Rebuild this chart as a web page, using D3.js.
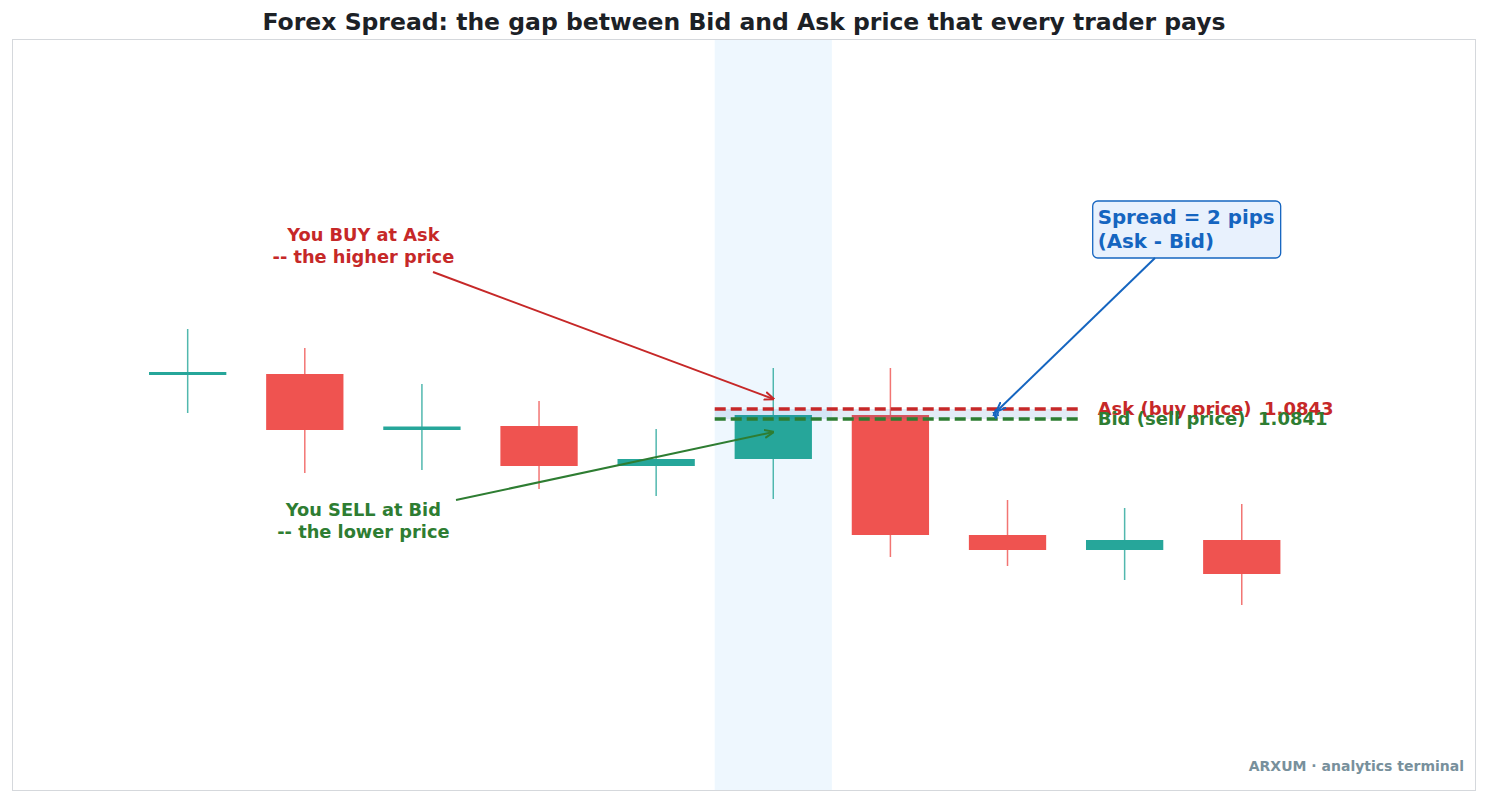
<!DOCTYPE html>
<html>
<head>
<meta charset="utf-8">
<script src="https://cdn.jsdelivr.net/npm/d3@7"></script>
<style>
  html, body { margin: 0; padding: 0; background: #fff; }
  svg { display: block; font-family: "DejaVu Sans", sans-serif; }
</style>
</head>
<body>
<svg id="chart" width="1488" height="803"></svg>
<script>
/*
 * Candle data (EUR/USD style quotes), one entry per bar
 */
var bars   = [0, 1, 2, 3, 4, 5, 6, 7, 8, 9];
var opens  = [1.08498, 1.08500, 1.08388, 1.08396, 1.08316, 1.08330, 1.08418, 1.08178, 1.08148, 1.08168];
var closes = [1.08504, 1.08388, 1.08395, 1.08316, 1.08330, 1.08418, 1.08178, 1.08148, 1.08168, 1.08100];
var highs  = [1.08590, 1.08552, 1.08480, 1.08446, 1.08390, 1.08512, 1.08512, 1.08248, 1.08232, 1.08240];
var lows   = [1.08422, 1.08302, 1.08308, 1.08270, 1.08256, 1.08250, 1.08134, 1.08116, 1.08088, 1.08038];

var askPrice = 1.0843;
var bidPrice = 1.0841;
var spreadPips = 2;
var quoteSpan = [4.5, 7.6];     // bars covered by the bid/ask lines
var focusBar = 5;

var svg = d3.select('#chart');
var W = 1488, H = 803;
var plot = {left: 12, right: 1476, top: 39, bottom: 791};

var x = d3.scaleLinear().domain([-1.5, 11]).range([plot.left, plot.right]);
var y = d3.scaleLinear().domain([1.07666, 1.0917]).range([plot.bottom, plot.top]);

var UP = '#26a69a', DOWN = '#ef5350';
var RED = '#c62828', GREEN = '#2e7d32', BLUE = '#1565c0';
var bw = 0.66;

// arrow markers (open "->" heads)
var defs = svg.append('defs');
function marker(id, color, size) {
    defs.append('marker')
        .attr('id', id)
        .attr('viewBox', '0 0 10 10')
        .attr('refX', 9).attr('refY', 5)
        .attr('markerWidth', size).attr('markerHeight', size)
        .attr('markerUnits', 'userSpaceOnUse')
        .attr('orient', 'auto-start-reverse')
        .append('path')
        .attr('d', 'M0,1 L10,5 L0,9')
        .attr('fill', 'none')
        .attr('stroke', color)
        .attr('stroke-width', 2);
}
marker('arRed', RED, 10);
marker('arGreen', GREEN, 10);
marker('arBlue', BLUE, 10);
marker('arBlueS', BLUE, 7);

// title
svg.append('text')
    .attr('x', W / 2).attr('y', 30)
    .attr('text-anchor', 'middle')
    .attr('font-size', 23.5).attr('font-weight', 'bold')
    .attr('fill', '#1c2126')
    .text('Forex Spread: the gap between Bid and Ask price that every trader pays');

// plot frame
svg.append('rect')
    .attr('x', plot.left + 0.5).attr('y', plot.top + 0.5)
    .attr('width', plot.right - plot.left - 1).attr('height', plot.bottom - plot.top - 1)
    .attr('fill', '#fff').attr('stroke', '#d5d8dc').attr('stroke-width', 1);

var g = svg.append('g');

// highlighted bar
g.append('rect')
    .attr('x', x(focusBar - 0.5)).attr('y', plot.top + 1)
    .attr('width', x(focusBar + 0.5) - x(focusBar - 0.5))
    .attr('height', plot.bottom - plot.top - 2)
    .attr('fill', '#e3f2fd').attr('opacity', 0.6);

// candles
var candles = g.selectAll('g.candle').data(bars).enter().append('g').attr('class', 'candle');
candles.append('line')
    .attr('x1', function(i) { return x(i); })
    .attr('x2', function(i) { return x(i); })
    .attr('y1', function(i) { return y(highs[i]); })
    .attr('y2', function(i) { return y(lows[i]); })
    .attr('stroke', function(i) { return closes[i] >= opens[i] ? UP : DOWN; })
    .attr('stroke-opacity', 0.8)
    .attr('stroke-width', 1.5);
candles.append('rect')
    .attr('x', function(i) { return x(i - bw / 2); })
    .attr('width', x(bw) - x(0))
    .attr('y', function(i) { return y(Math.max(opens[i], closes[i])); })
    .attr('height', function(i) {
        return Math.max(3, Math.abs(y(opens[i]) - y(closes[i])));
    })
    .attr('fill', function(i) { return closes[i] >= opens[i] ? UP : DOWN; });

// spread band + bid/ask lines
g.append('rect')
    .attr('x', x(quoteSpan[0])).attr('width', x(quoteSpan[1]) - x(quoteSpan[0]))
    .attr('y', y(askPrice)).attr('height', y(bidPrice) - y(askPrice))
    .attr('fill', BLUE).attr('opacity', 0.12);
[[askPrice, RED], [bidPrice, GREEN]].forEach(function(d) {
    g.append('line')
        .attr('x1', x(quoteSpan[0])).attr('x2', x(quoteSpan[1]))
        .attr('y1', y(d[0])).attr('y2', y(d[0]))
        .attr('stroke', d[1]).attr('stroke-width', 3.5)
        .attr('stroke-dasharray', '11,5');
});

// double arrow across the spread
g.append('line')
    .attr('x1', x(6.9)).attr('x2', x(6.9))
    .attr('y1', y(askPrice) + 1).attr('y2', y(bidPrice) - 1)
    .attr('stroke', BLUE).attr('stroke-width', 2)
    .attr('marker-start', 'url(#arBlueS)')
    .attr('marker-end', 'url(#arBlueS)');

g.append('text')
    .attr('x', x(7.77)).attr('y', y(askPrice) + 6)
    .attr('font-size', 18).attr('font-weight', 'bold').attr('fill', RED)
    .attr('xml:space', 'preserve')
    .text('Ask (buy price)  ' + askPrice.toFixed(4));
g.append('text')
    .attr('x', x(7.77)).attr('y', y(bidPrice) + 6)
    .attr('font-size', 18).attr('font-weight', 'bold').attr('fill', GREEN)
    .attr('xml:space', 'preserve')
    .text('Bid (sell price)  ' + bidPrice.toFixed(4));

// annotations
function multiline(px, py, lines, opts) {
    var t = g.append('text')
        .attr('x', px).attr('y', py)
        .attr('text-anchor', opts.anchor || 'middle')
        .attr('font-size', opts.size).attr('font-weight', 'bold')
        .attr('fill', opts.color);
    lines.forEach(function(s, k) {
        t.append('tspan').attr('x', px).attr('dy', k ? opts.lh : 0).text(s);
    });
    return t;
}

multiline(x(1.5), 241, ['You BUY at Ask', '-- the higher price'], {size: 17.8, color: RED, lh: 22});
g.append('line')
    .attr('x1', 433).attr('y1', 272)
    .attr('x2', x(5)).attr('y2', y(1.0845))
    .attr('stroke', RED).attr('stroke-width', 2)
    .attr('marker-end', 'url(#arRed)');

multiline(x(1.5), 516, ['You SELL at Bid', '-- the lower price'], {size: 17.8, color: GREEN, lh: 22});
g.append('line')
    .attr('x1', 456).attr('y1', 500)
    .attr('x2', x(5)).attr('y2', y(1.08384))
    .attr('stroke', GREEN).attr('stroke-width', 2)
    .attr('marker-end', 'url(#arGreen)');

var boxG = g.append('g');
var st = multiline(x(7.77), 224, ['Spread = ' + spreadPips + ' pips', '(Ask - Bid)'],
    {size: 19.8, color: BLUE, lh: 24, anchor: 'start'});
var bb = st.node().getBBox();
boxG.append('rect')
    .attr('x', bb.x - 5).attr('y', bb.y - 5)
    .attr('width', bb.width + 11).attr('height', bb.height + 10)
    .attr('rx', 5)
    .attr('fill', '#e8f1fd').attr('stroke', BLUE).attr('stroke-width', 1.3);
g.append('line')
    .attr('x1', 1155).attr('y1', bb.y + bb.height + 5)
    .attr('x2', x(6.91)).attr('y2', y(askPrice) + 2)
    .attr('stroke', BLUE).attr('stroke-width', 2)
    .attr('marker-end', 'url(#arBlue)');

// watermark
svg.append('text')
    .attr('x', 1464).attr('y', 771)
    .attr('text-anchor', 'end')
    .attr('font-size', 14).attr('font-weight', 'bold')
    .attr('fill', '#78909c')
    .text('ARXUM \u00b7 analytics terminal');
</script>
</body>
</html>
